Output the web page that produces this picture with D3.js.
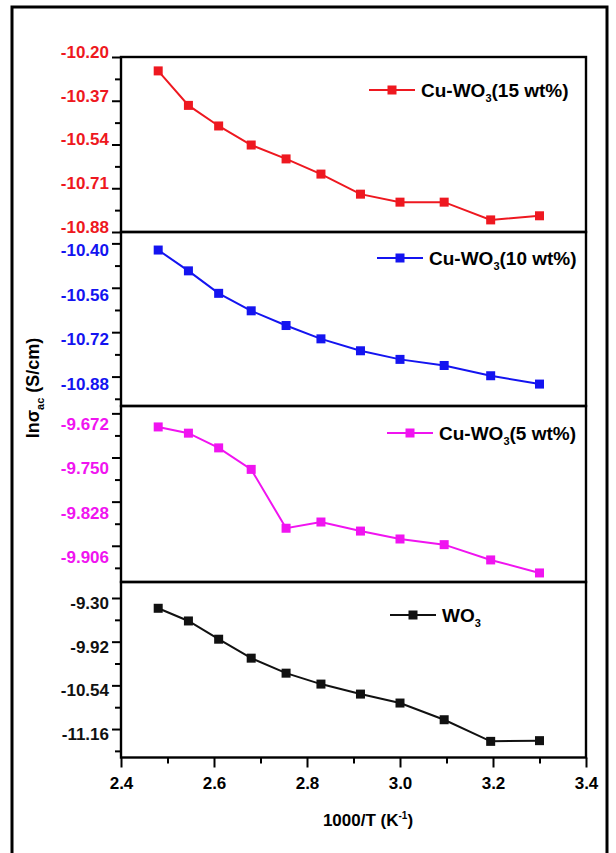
<!DOCTYPE html>
<html>
<head>
<meta charset="utf-8">
<script src="https://cdn.jsdelivr.net/npm/d3@7"></script>
<style>
  html, body { margin: 0; padding: 0; background: #fff; }
  svg { display: block; }
  text { font-family: "Liberation Sans", Arial, sans-serif; font-weight: bold; }
</style>
</head>
<body>
<svg id="chart" width="616" height="853"></svg>
<script>
// 1000/T values shared by all four samples
const invT = [2.48, 2.545, 2.61, 2.68, 2.755, 2.83, 2.915, 3.0, 3.095, 3.195, 3.30];

// ln(sigma_ac) for each sample
const cu15 = [-10.254, -10.388, -10.468, -10.542, -10.596, -10.655, -10.733, -10.764, -10.764, -10.833, -10.817];
const cu10 = [-10.424, -10.499, -10.580, -10.643, -10.696, -10.744, -10.787, -10.818, -10.840, -10.877, -10.907];
const cu5  = [-9.696, -9.707, -9.733, -9.771, -9.875, -9.864, -9.880, -9.894, -9.904, -9.931, -9.954];
const wo3  = [-9.446, -9.626, -9.885, -10.154, -10.367, -10.522, -10.664, -10.791, -11.028, -11.335, -11.325];

// axis tick labels per panel
const ticks15 = [-10.20, -10.37, -10.54, -10.71, -10.88];
const ticks10 = [-10.40, -10.56, -10.72, -10.88];
const ticks5  = [-9.672, -9.750, -9.828, -9.906];
const ticksWO = [-9.30, -9.92, -10.54, -11.16];
const xTicks  = [2.4, 2.6, 2.8, 3.0, 3.2, 3.4];
const xMinor  = [2.5, 2.7, 2.9, 3.1, 3.3];

const panels = [
  { values: cu15, ticks: ticks15, digits: 2, color: "#ee1820", domain: [-10.88, -10.20],   top: 57,  bottom: 232, shift: -5,
    label: ["Cu-WO", "3", "(15 wt%)"], lx: 369, ly: 90 },
  { values: cu10, ticks: ticks10, digits: 2, color: "#1414f0", domain: [-10.986, -10.359], top: 232, bottom: 406, shift: 7,
    label: ["Cu-WO", "3", "(10 wt%)"], lx: 377, ly: 258 },
  { values: cu5,  ticks: ticks5,  digits: 3, color: "#f014f0", domain: [-9.970, -9.659],   top: 406, bottom: 582, shift: 11,
    label: ["Cu-WO", "3", "(5 wt%)"], lx: 387, ly: 433 },
  { values: wo3,  ticks: ticksWO, digits: 2, color: "#111111", domain: [-11.564, -9.073],  top: 582, bottom: 757.5, shift: 5,
    label: ["WO", "3", ""], lx: 390, ly: 615 }
];

const svg = d3.select("#chart");
const left = 121, right = 586;

// outer frame (open at the bottom edge of the page)
svg.append("rect").attr("x", 12).attr("y", 7).attr("width", 595).attr("height", 870)
  .attr("fill", "none").attr("stroke", "#000").attr("stroke-width", 3);

const x = d3.scaleLinear().domain([2.4, 3.4]).range([left, right]);

panels.forEach(p => {
  const y = d3.scaleLinear().domain(p.domain).range([p.bottom, p.top]);
  const step = p.ticks[0] - p.ticks[1];
  const minor = p.ticks.map(t => t - step / 2).concat([p.ticks[0] + step / 2])
    .filter(v => y(v) > p.top + 1 && y(v) < p.bottom - 1);

  // minor ticks
  const gm = svg.append("g").attr("transform", `translate(${left},0)`)
    .call(d3.axisLeft(y).tickValues(minor).tickSize(6).tickFormat(""));
  gm.select(".domain").remove();
  gm.selectAll("line").attr("stroke", "#000").attr("stroke-width", 2);

  // major ticks with labels
  const ga = svg.append("g").attr("transform", `translate(${left},0)`)
    .call(d3.axisLeft(y).tickValues(p.ticks).tickSize(9).tickPadding(3)
      .tickFormat(v => v.toFixed(p.digits)));
  ga.select(".domain").remove();
  ga.selectAll("line").attr("stroke", "#000").attr("stroke-width", 2);
  ga.selectAll("text").attr("font-family", "Liberation Sans, Arial, sans-serif").attr("font-weight", "bold")
    .attr("font-size", 17).attr("fill", p.color).attr("y", p.shift);

  // panel frame
  svg.append("rect").attr("x", left).attr("y", p.top).attr("width", right - left).attr("height", p.bottom - p.top)
    .attr("fill", "none").attr("stroke", "#000").attr("stroke-width", 2.4);

  // series line and square markers
  const pts = invT.map((t, k) => [x(t), y(p.values[k])]);
  svg.append("path").attr("d", d3.line()(pts)).attr("fill", "none")
    .attr("stroke", p.color).attr("stroke-width", 2);
  svg.append("g").selectAll("rect").data(pts).join("rect")
    .attr("x", d => d[0] - 4.5).attr("y", d => d[1] - 4.5).attr("width", 9).attr("height", 9)
    .attr("fill", p.color);

  // legend entry
  const lg = svg.append("g").attr("transform", `translate(${p.lx},${p.ly})`);
  lg.append("line").attr("x1", 0).attr("x2", 46).attr("y1", 0).attr("y2", 0).attr("stroke", p.color).attr("stroke-width", 2);
  lg.append("rect").attr("x", 18.5).attr("y", -4.5).attr("width", 9).attr("height", 9).attr("fill", p.color);
  const tx = lg.append("text").attr("x", 52).attr("y", 7).attr("font-size", 19).attr("fill", "#000");
  tx.append("tspan").text(p.label[0]);
  tx.append("tspan").attr("font-size", 11).attr("dy", 5).text(p.label[1]);
  tx.append("tspan").attr("dy", -5).text(p.label[2]);
});

// bottom axis
const gx = svg.append("g").attr("transform", "translate(0,757.5)")
  .call(d3.axisBottom(x).tickValues(xTicks).tickSize(10).tickPadding(9).tickFormat(d3.format(".1f")));
gx.select(".domain").remove();
gx.selectAll("line").attr("stroke", "#000").attr("stroke-width", 2);
gx.selectAll("text").attr("font-family", "Liberation Sans, Arial, sans-serif").attr("font-weight", "bold")
  .attr("font-size", 17).attr("fill", "#000");
const gxm = svg.append("g").attr("transform", "translate(0,757.5)")
  .call(d3.axisBottom(x).tickValues(xMinor).tickSize(6).tickFormat(""));
gxm.select(".domain").remove();
gxm.selectAll("line").attr("stroke", "#000").attr("stroke-width", 2);

// axis titles
const xt = svg.append("text").attr("x", 368).attr("y", 826).attr("text-anchor", "middle").attr("font-size", 17);
xt.append("tspan").text("1000/T (K");
xt.append("tspan").attr("font-size", 10).attr("dy", -7).text("-1");
xt.append("tspan").attr("dy", 7).text(")");

const yt = svg.append("text").attr("transform", "translate(39,388) rotate(-90)").attr("text-anchor", "middle").attr("font-size", 18);
yt.append("tspan").text("lnσ");
yt.append("tspan").attr("font-size", 11).attr("dy", 5).text("ac");
yt.append("tspan").attr("dy", -5).text(" (S/cm)");
</script>
</body>
</html>
